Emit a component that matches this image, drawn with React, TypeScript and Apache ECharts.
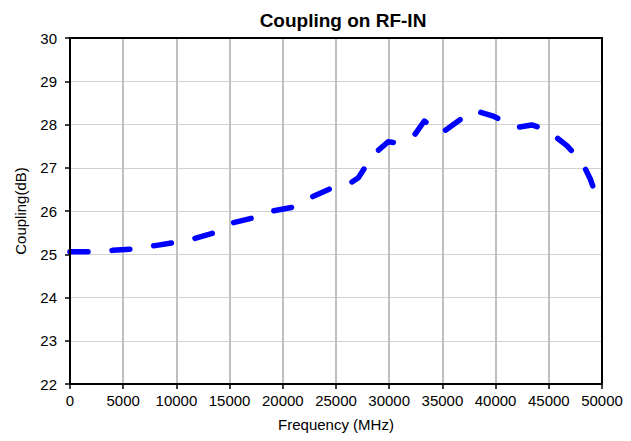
import React, { useEffect, useRef } from "react";
import * as echarts from "echarts";

const frequencies = [0, 2000, 4000, 6000, 8000, 10000, 11500, 13600, 15200, 17200, 19000, 21000, 22700, 24600, 26300, 27100, 28500, 29900, 30600, 31500, 32300, 33300, 34900, 36200, 37900, 39700, 41000, 42000, 43400, 44500, 45300, 46700, 48100, 48900, 49600, 50000];
const coupling = [25.06, 25.06, 25.09, 25.12, 25.2, 25.28, 25.35, 25.5, 25.72, 25.84, 26.0, 26.09, 26.32, 26.53, 26.64, 26.77, 27.3, 27.6, 27.58, 27.65, 27.73, 28.08, 27.8, 28.03, 28.33, 28.2, 28.05, 27.93, 27.99, 27.9, 27.78, 27.51, 27.14, 26.74, 26.26, 26.14];

const titleText = "Coupling on RF-IN";
const xName = "Frequency (MHz)";
const yName = "Coupling(dB)";

const GRID = { left: 70, top: 38, width: 532, height: 346 };

export default function App() {
  const ref = useRef<HTMLDivElement>(null);
  useEffect(() => {
    if (!ref.current) return;
    const chart = echarts.init(ref.current, null, { renderer: "svg" });
    const font = "Liberation Sans, Arial, sans-serif";
    chart.setOption({
      animation: false,
      backgroundColor: "#ffffff",
      title: {
        text: titleText,
        left: 338,
        textAlign: "center",
        top: 6,
        textStyle: { fontFamily: font, fontSize: 19, fontWeight: "bold", color: "#000" },
      },
      grid: { ...GRID },
      graphic: [
        {
          type: "rect",
          z: 100,
          silent: true,
          shape: { x: GRID.left, y: GRID.top, width: GRID.width, height: GRID.height },
          style: { fill: "none", stroke: "#000", lineWidth: 2 },
        },
      ],
      xAxis: {
        type: "value",
        min: 0,
        max: 50000,
        interval: 5000,
        name: xName,
        nameLocation: "middle",
        nameGap: 33,
        nameTextStyle: { fontFamily: font, fontSize: 15, color: "#000", verticalAlign: "top" },
        axisLine: { show: false, onZero: false },
        axisTick: { show: true, length: 5, lineStyle: { color: "#000", width: 1.5 } },
        axisLabel: { fontFamily: font, fontSize: 15, color: "#000", margin: 9, formatter: (v: number) => String(v) },
        splitLine: { show: true, lineStyle: { color: "#c0c0c0", width: 2 } },
      },
      yAxis: {
        type: "value",
        min: 22,
        max: 30,
        interval: 1,
        name: yName,
        nameLocation: "middle",
        nameGap: 42,
        nameRotate: 90,
        nameTextStyle: { fontFamily: font, fontSize: 15, color: "#000" },
        axisLine: { show: false, onZero: false },
        axisTick: { show: true, length: 5, lineStyle: { color: "#000", width: 1.5 } },
        axisLabel: { fontFamily: font, fontSize: 15, color: "#000", margin: 13 },
        splitLine: { show: true, lineStyle: { color: "#d0d0d0", width: 1.2 } },
      },
      series: [
        {
          type: "line",
          data: frequencies.map((f, i) => [f, coupling[i]]),
          showSymbol: false,
          smooth: false,
          z: 5,
          lineStyle: { color: "#0000ff", width: 5.5, type: [18, 24], cap: "round", join: "round" },
        },
      ],
    });
    return () => chart.dispose();
  }, []);
  return <div ref={ref} style={{ position: "fixed", left: 0, top: 0, width: 631, height: 441 }} />;
}
